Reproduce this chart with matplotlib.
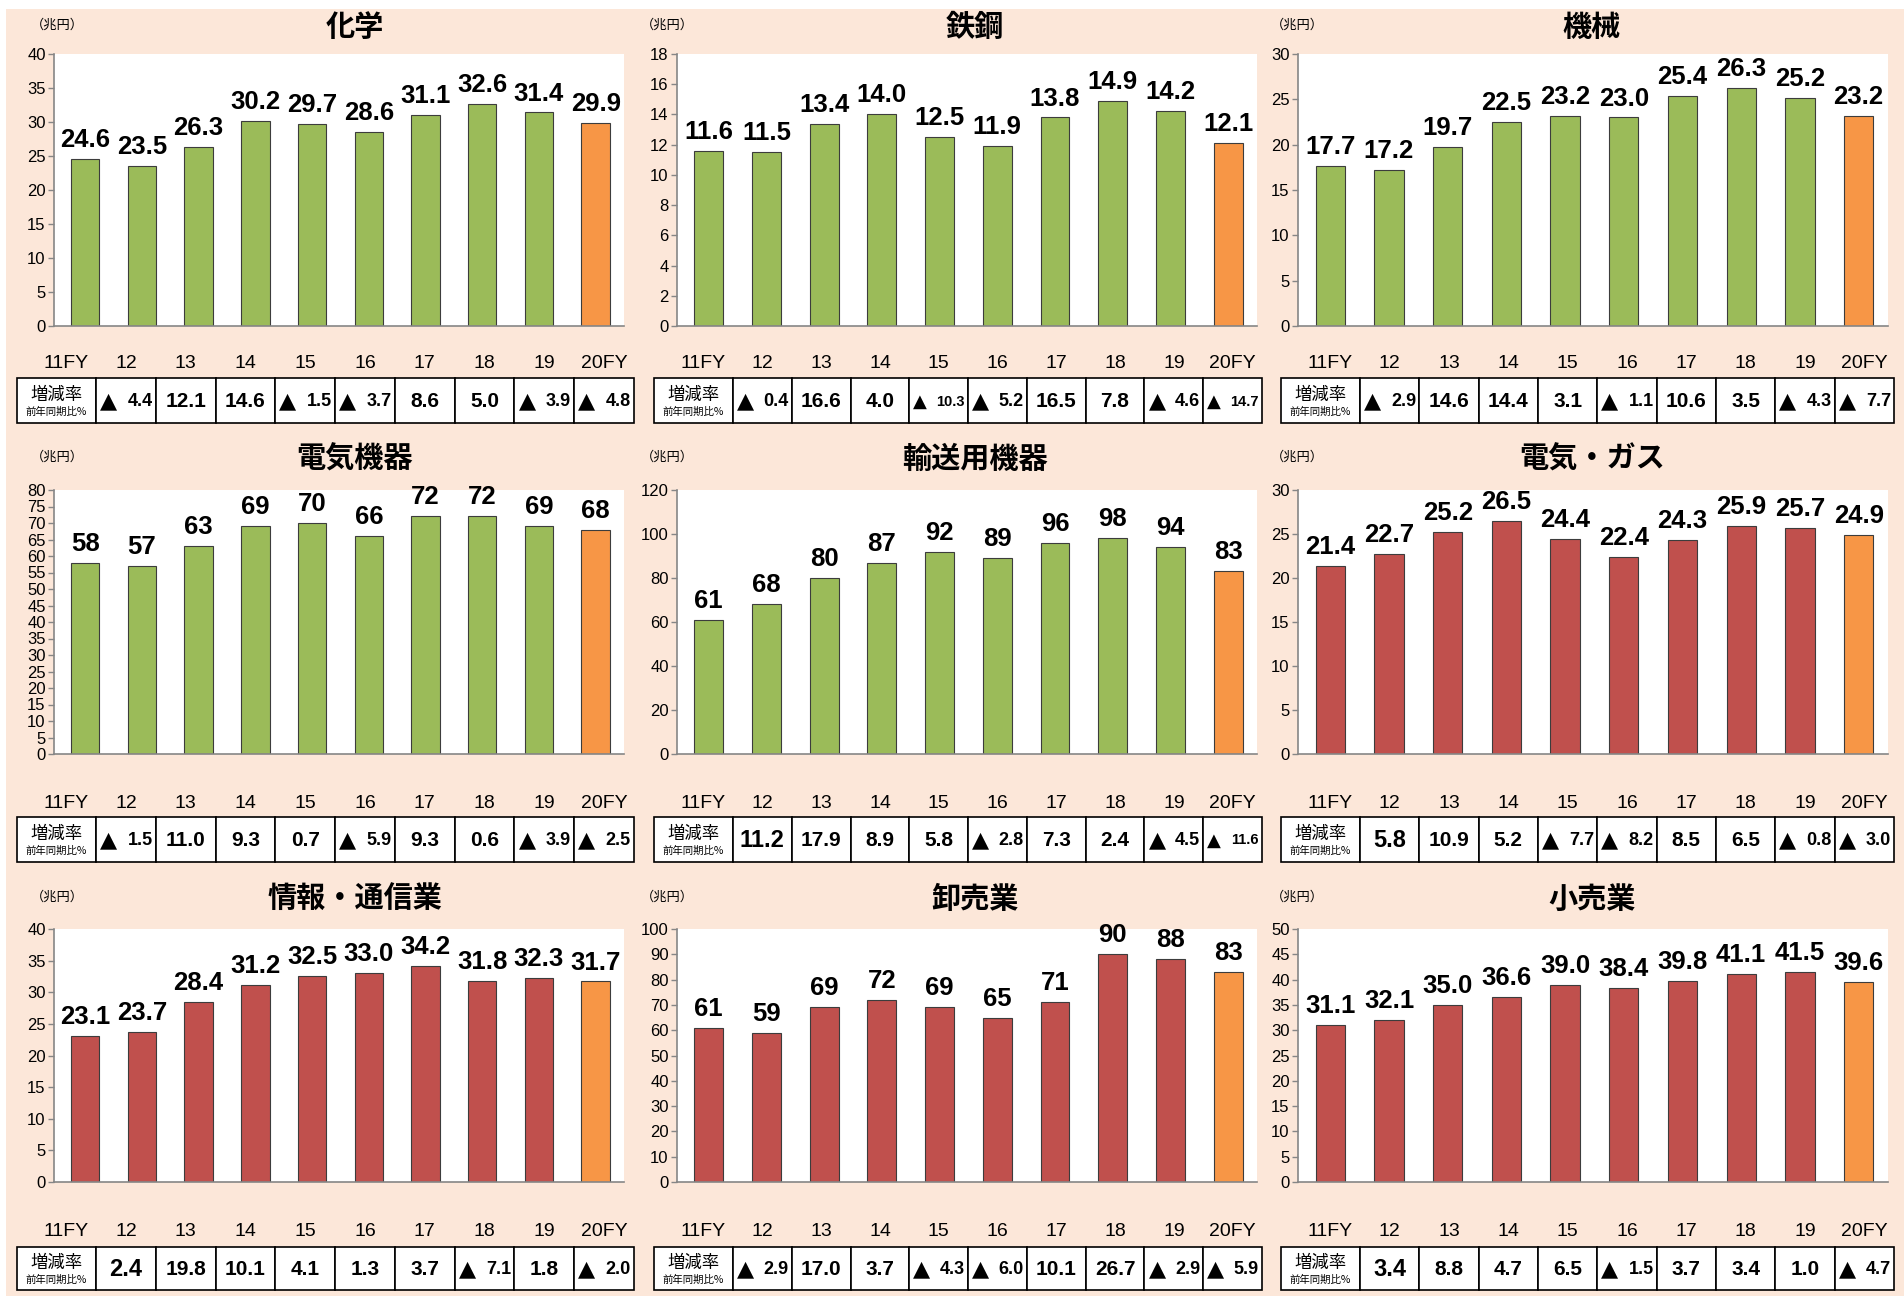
import matplotlib
matplotlib.use("Agg")
import matplotlib.pyplot as plt
import numpy as np
from matplotlib.patches import Rectangle

plt.rcParams['font.family'] = ['DejaVu Sans', 'Noto Sans CJK JP']

W, H = 1904, 1296

# ---------------- data ----------------
years = ["11FY", "12", "13", "14", "15", "16", "17", "18", "19", "20FY"]

chem = [24.6, 23.5, 26.3, 30.2, 29.7, 28.6, 31.1, 32.6, 31.4, 29.9]
chem_rate = [-4.4, 12.1, 14.6, -1.5, -3.7, 8.6, 5.0, -3.9, -4.8]
steel = [11.6, 11.5, 13.4, 14.0, 12.5, 11.9, 13.8, 14.9, 14.2, 12.1]
steel_rate = [-0.4, 16.6, 4.0, -10.3, -5.2, 16.5, 7.8, -4.6, -14.7]
machinery = [17.7, 17.2, 19.7, 22.5, 23.2, 23.0, 25.4, 26.3, 25.2, 23.2]
machinery_rate = [-2.9, 14.6, 14.4, 3.1, -1.1, 10.6, 3.5, -4.3, -7.7]
electric = [58, 57, 63, 69, 70, 66, 72, 72, 69, 68]
electric_rate = [-1.5, 11.0, 9.3, 0.7, -5.9, 9.3, 0.6, -3.9, -2.5]
transport = [61, 68, 80, 87, 92, 89, 96, 98, 94, 83]
transport_rate = [11.2, 17.9, 8.9, 5.8, -2.8, 7.3, 2.4, -4.5, -11.6]
utilities = [21.4, 22.7, 25.2, 26.5, 24.4, 22.4, 24.3, 25.9, 25.7, 24.9]
utilities_rate = [5.8, 10.9, 5.2, -7.7, -8.2, 8.5, 6.5, -0.8, -3.0]
info = [23.1, 23.7, 28.4, 31.2, 32.5, 33.0, 34.2, 31.8, 32.3, 31.7]
info_rate = [2.4, 19.8, 10.1, 4.1, 1.3, 3.7, -7.1, 1.8, -2.0]
wholesale = [61, 59, 69, 72, 69, 65, 71, 90, 88, 83]
wholesale_rate = [-2.9, 17.0, 3.7, -4.3, -6.0, 10.1, 26.7, -2.9, -5.9]
retail = [31.1, 32.1, 35.0, 36.6, 39.0, 38.4, 39.8, 41.1, 41.5, 39.6]
retail_rate = [3.4, 8.8, 4.7, 6.5, -1.5, 3.7, 3.4, 1.0, -4.7]

titles = ["化学", "鉄鋼", "機械", "電気機器", "輸送用機器", "電気・ガス",
          "情報・通信業", "卸売業", "小売業"]
series = [chem, steel, machinery, electric, transport, utilities, info, wholesale, retail]
rates = [chem_rate, steel_rate, machinery_rate, electric_rate, transport_rate,
         utilities_rate, info_rate, wholesale_rate, retail_rate]
y_max = [40, 18, 30, 80, 120, 30, 40, 100, 50]
y_step = [5, 2, 5, 5, 20, 5, 5, 10, 5]
decimals = [1, 1, 1, 0, 0, 1, 1, 0, 1]
manufacturing = [True, True, True, True, True, False, False, False, False]

# ---------------- style / layout ----------------
GREEN = "#9BBB59"
RED = "#C0504D"
ORANGE = "#F79646"
BG = "#FCE7D9"
AXGRAY = "#868686"
CJK = ["Noto Sans CJK JP", "DejaVu Sans"]
NUM = ["Liberation Sans", "DejaVu Sans"]

COLS = [(54, 624), (677, 1257), (1298, 1888)]
ROWS = [(54, 326), (490, 754), (929, 1182)]
TABLE_X = [(17, 634), (654, 1262), (1281, 1894)]
TABLE_Y = [(378, 423), (817, 862), (1247, 1290)]
HEADER_Y = [363, 803, 1232]
TITLE_Y = [27, 459, 899]
TITLE_X = [355, 975, 1592]
UNIT_X = [57, 667, 1297]
LABEL_W = 79

fig = plt.figure(figsize=(W / 100, H / 100), dpi=100, facecolor="white")

ov = fig.add_axes([0, 0, 1, 1], zorder=-1)
ov.set_xlim(0, W)
ov.set_ylim(H, 0)
ov.axis("off")
ov.add_patch(Rectangle((6, 9), W - 6, H - 9, facecolor=BG, edgecolor="none"))


def fmt_rate(v):
    return f"{abs(v):.1f}"


for i, (title, vals, rts) in enumerate(zip(titles, series, rates)):
    row, col = divmod(i, 3)
    l, r = COLS[col]
    t, b = ROWS[row]
    ax = fig.add_axes([l / W, 1 - b / H, (r - l) / W, (b - t) / H])
    ax.set_facecolor("white")
    base = GREEN if manufacturing[i] else RED
    colors = [base] * (len(vals) - 1) + [ORANGE]
    x = np.arange(len(vals))
    ax.bar(x, vals, width=0.5, color=colors, edgecolor="#3c3c3c", linewidth=0.8, zorder=2)
    ax.set_xlim(-0.55, 9.5)
    ax.set_ylim(0, y_max[i])
    ax.set_yticks(np.arange(0, y_max[i] + y_step[i] / 2, y_step[i]))
    ax.set_xticks([])
    for s in ("top", "right"):
        ax.spines[s].set_visible(False)
    for s in ("left", "bottom"):
        ax.spines[s].set_color(AXGRAY)
        ax.spines[s].set_linewidth(1.2)
    ax.tick_params(axis="y", direction="out", length=4, width=1, color=AXGRAY,
                   labelsize=12, pad=2)
    for lab in ax.get_yticklabels():
        lab.set_family(NUM)
    for xi, v in zip(x, vals):
        ax.annotate(f"{v:.{decimals[i]}f}", (xi, v), xytext=(0, 5),
                    textcoords="offset points", ha="center", va="bottom",
                    fontsize=18.5, fontweight="bold", family=NUM,
                    annotation_clip=False)

    # titles
    ov.text(TITLE_X[col], TITLE_Y[row], title, ha="center", va="center",
            fontsize=21, fontweight="bold", family=CJK)
    ov.text(UNIT_X[col], TITLE_Y[row] - 2, "（兆円）", ha="center", va="center",
            fontsize=9.5, family=CJK)

    # table
    x0, x1 = TABLE_X[col]
    y0, y1 = TABLE_Y[row]
    cw = (x1 - x0 - LABEL_W) / 9
    edges = [x0, x0 + LABEL_W] + [x0 + LABEL_W + cw * k for k in range(1, 10)]
    yc = (y0 + y1) / 2
    for j in range(10):
        ov.add_patch(Rectangle((edges[j], y0), edges[j + 1] - edges[j], y1 - y0,
                               facecolor="white", edgecolor="black", linewidth=1.2))
        cx = (edges[j] + edges[j + 1]) / 2 + (10 if j == 0 else 0)
        ov.text(cx, HEADER_Y[row], years[j], ha="center", va="center",
                fontsize=14, family=NUM)
    lx = (edges[0] + edges[1]) / 2
    ov.text(lx, yc - 6, "増減率", ha="center", va="center", fontsize=12.5, family=CJK)
    ov.text(lx, yc + 11, "前年同期比%", ha="center", va="center", fontsize=7.5, family=CJK)
    for k, rv in enumerate(rts):
        a, c = edges[k + 1], edges[k + 2]
        s = fmt_rate(rv)
        if rv < 0:
            small = len(s) >= 4
            ov.text(a + 4, yc + 1, "▲", ha="left", va="center",
                    fontsize=13 if small else 16, family=["DejaVu Sans"])
            ov.text(c - 3, yc + 1, s, ha="right", va="center",
                    fontsize=10.5 if small else 13, fontweight="bold", family=NUM)
        else:
            fs = 17 if (k == 0 and row > 0) else 15
            ov.text((a + c) / 2, yc + 1, s, ha="center", va="center",
                    fontsize=fs, fontweight="bold", family=NUM)

fig.savefig("out.png", dpi=100, facecolor="white")
